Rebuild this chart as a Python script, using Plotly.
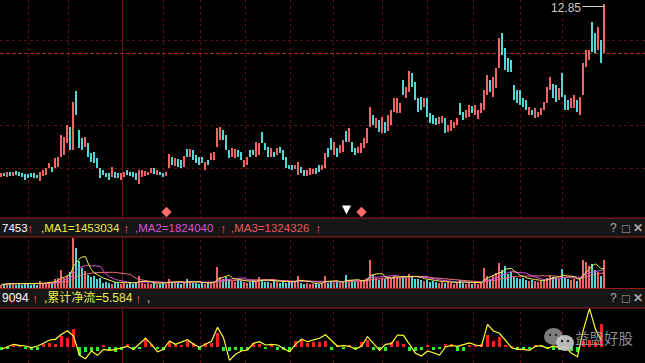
import plotly.graph_objects as go
import pandas as pd

W, H = 645, 363

# ---------------- data ----------------
hi = [4.40,4.40,4.45,4.45,4.45,4.50,4.45,4.40,4.35,4.35,
      4.40,4.40,4.30,4.45,4.55,4.65,4.90,4.70,5.15,5.20,
      6.30,6.20,6.80,6.70,7.95,8.50,6.55,6.15,6.20,5.90,
      5.40,5.45,5.15,4.65,4.55,4.40,4.40,4.70,4.45,4.40,
      4.40,4.45,4.55,4.45,4.45,4.40,4.55,4.55,4.50,4.45,
      4.65,4.65,4.55,4.45,4.40,4.45,5.35,5.20,5.15,5.10,
      5.05,5.25,5.60,5.60,5.55,5.30,5.20,5.20,4.95,5.05,
      5.40,5.45,6.65,6.70,6.55,6.30,5.55,5.65,5.60,5.55,
      5.45,5.05,5.20,5.55,5.55,5.95,5.90,6.45,5.90,5.70,
      5.65,5.45,5.65,5.70,5.55,5.20,4.80,4.80,4.80,4.95,
      4.70,4.55,4.55,4.65,4.60,4.65,4.80,4.80,5.40,5.65,
      6.15,5.95,5.65,5.80,6.05,6.50,6.65,5.95,5.65,5.70,
      5.90,6.15,6.65,7.70,7.30,7.15,7.05,7.20,6.95,7.30,
      7.55,8.15,8.15,7.90,9.05,8.70,9.50,9.40,8.95,8.15,
      8.20,8.15,8.15,7.40,7.30,7.15,7.20,7.25,7.15,6.80,
      7.05,6.95,7.15,7.90,7.45,7.55,7.80,7.75,7.80,7.55,
      7.90,8.55,9.30,9.05,9.20,9.65,11.15,11.40,10.65,10.15,
      10.05,8.80,8.55,8.55,8.15,8.05,7.70,7.55,7.65,7.45,
      7.65,7.95,8.70,9.20,8.85,8.80,8.65,9.40,8.30,8.05,
      8.15,8.30,8.05,8.20,9.90,10.55,10.55,11.95,11.40,11.70,
      11.05,12.85]

lo = [4.20,4.25,4.20,4.25,4.25,4.30,4.25,4.20,4.05,4.15,
      4.20,4.15,4.15,4.00,4.25,4.30,4.65,4.45,4.65,4.70,
      5.20,5.30,5.90,5.55,5.55,7.30,5.65,5.55,5.70,5.20,
      4.95,4.90,4.65,4.15,4.30,4.20,4.05,4.20,4.15,4.15,
      4.05,4.20,4.30,4.25,4.20,4.05,3.85,4.20,4.25,4.30,
      4.40,4.35,4.30,4.30,4.20,4.25,4.65,4.80,4.75,4.70,
      4.65,4.70,5.20,5.20,5.05,4.90,4.80,4.90,4.55,4.80,
      5.05,5.05,5.70,6.05,6.05,5.55,5.15,5.20,5.15,5.20,
      5.05,4.70,4.80,5.20,5.30,5.20,5.30,5.90,5.55,5.20,
      5.20,5.20,5.30,5.40,5.05,4.65,4.60,4.55,4.60,4.30,
      4.40,4.25,4.25,4.30,4.35,4.35,4.45,4.55,4.65,5.20,
      5.55,5.30,5.20,5.40,5.45,5.95,5.95,5.45,5.30,5.40,
      5.40,5.65,5.90,6.70,6.80,6.65,6.45,6.40,6.40,6.50,
      6.80,7.45,7.40,7.40,8.30,8.15,8.45,8.70,8.05,7.45,
      7.55,7.70,7.20,6.90,6.85,6.80,6.85,6.90,6.40,6.45,
      6.50,6.65,6.80,7.30,7.05,7.15,7.20,7.40,7.30,7.10,
      7.40,7.55,8.30,8.45,8.20,8.65,9.65,10.30,9.55,9.45,
      9.45,8.05,7.90,7.80,7.70,7.55,7.30,7.30,7.15,7.20,
      7.30,7.55,7.90,8.55,8.15,7.95,8.05,8.20,7.55,7.55,
      7.65,7.65,7.45,7.30,8.30,9.70,10.05,10.45,10.40,10.55,
      9.90,10.40]

up = [1,0,1,0,1,0,0,0,0,0, 0,0,0,1,1,1,1,0,1,1, 1,1,1,0,1,0,0,0,1,0,
      0,0,0,0,0,0,0,1,0,0, 1,1,0,0,0,0,1,1,1,1, 1,0,1,0,0,1,1,0,1,0,
      0,1,0,1,0,0,0,0,1,0, 1,1,1,1,0,0,0,1,1,0, 0,1,1,0,0,1,1,0,0,0,
      1,0,1,0,0,0,0,0,1,1, 0,0,1,1,1,0,0,1,1,0, 0,1,0,1,1,0,1,0,0,1,
      1,1,1,1,0,1,0,1,0,1, 1,1,1,1,0,1,1,0,0,0, 0,1,0,0,0,0,1,1,0,1,
      1,1,1,0,0,1,1,0,1,1, 1,1,1,0,1,1,1,0,0,0, 0,0,0,0,0,0,1,0,1,1,
      1,1,1,1,0,0,1,0,0,0, 1,1,0,1,1,1,1,0,0,1, 0,1]

vol = [24,32,24,40,32,24,32,24,40,32, 24,32,24,56,32,40,48,40,72,80,
       144,80,96,128,400,320,216,160,136,104, 88,96,72,80,40,48,40,32,48,40,
       32,40,32,40,32,40,96,40,32,40, 32,40,32,32,40,32,72,48,40,40,
       32,40,72,48,40,40,32,40,32,40, 48,40,168,88,72,88,72,56,48,64,
       56,48,40,48,56,48,88,56,48,48, 40,56,48,40,48,40,56,48,48,96,
       40,32,40,32,32,40,32,40,96,40, 48,40,48,40,48,104,48,56,48,56,
       64,56,80,224,104,80,64,80,72,88, 80,96,88,80,96,80,112,88,72,72,
       64,56,64,48,56,48,40,48,40,48, 40,32,40,64,40,32,40,32,40,32,
       48,160,96,72,96,120,200,144,176,112, 128,88,80,72,80,64,56,64,56,48,
       56,64,80,104,88,80,72,152,80,72, 64,72,56,80,224,208,176,192,144,128,
       96,224]

flow = [-0.25,-0.2,0.15,0.25,-0.15,-0.3,-0.3,0.3,0.4,0.3,
        1.1,0.9,1.8,-0.8,-0.5,-0.4,-0.4,0.2,-0.3,-0.5,
        -0.3,0.3,-0.3,-0.2,0.9,0.3,-0.2,-0.25,0.5,0.3,
        0.2,0.6,0.4,-0.3,0.4,0.4,
        1.4,-0.4,-0.4,-0.3,-0.35,-0.3,0.4,0.3,-0.2,0.2,
        -0.3,-0.3,-0.5,0.6,0.7,0.4,0.5,0.5,0.6,-0.3,
        0.2,-0.2,0.2,-0.2,0.5,0.7,-0.3,-0.3,-0.4,0.5,
        0.6,0.3,-0.4,-0.4,-0.3,0.2,
        -0.3,-0.2,0.3,0.3,-0.4,-0.4,0.2,0.2,0.3,1.2,
        0.6,1.0,0.2,0.1,-0.3,-0.3,-0.2,0.2,0.1,-0.2,
        -0.3,-0.3,-0.2,-0.4,-0.5,0.6,0.7,0.5,2.3]

netline = [-0.23,0.03,0.27,0.17,0.1,-0.07,0.1,0.37,0.7,0.77,
           1.27,1.63,1.1,-0.83,-1.17,-0.4,-0.83,-0.23,-0.33,-0.23,
           -0.1,0.07,-0.23,0.37,0.87,0.27,-0.47,-0.23,0.6,0.27,
           0.5,0.73,0.27,-0.03,0.27,0.57,
           1.97,0.93,-1.33,-0.73,-0.4,-0.3,0.37,0.53,0.2,0.27,
           0.2,-0.13,-0.47,0.27,0.77,0.53,0.73,0.87,1.23,0.6,
           0.07,0.13,0.07,-0.23,0.1,1.03,0.37,-0.33,0.27,0.33,
           1.2,1.17,0.27,-0.63,-0.9,-0.4,
           -0.57,-0.8,0,0.17,0.07,0.27,0.4,0.2,0.1,2.27,
           1.6,1.37,0.6,-0.07,-0.23,-0.23,-0.33,0.07,0.13,-0.13,
           0.1,-0.1,0,-0.63,-0.97,1.77,3.83,1.77,0.6]

sig_diamond_x = [55, 120]
sig_diamond_y = [2.45, 2.45]
sig_arrow_x = [115]
sig_arrow_y = [2.33]
max_price = 12.85

hdr_vol = ["7453", ",MA1=1453034", ",MA2=1824040", ",MA3=1324326"]
hdr_flow = ["9094", ",累计净流=5.584", ","]

assert len(hi) == len(lo) == len(up) == len(vol), (len(hi), len(lo), len(up), len(vol))
assert len(flow) == len(netline), (len(flow), len(netline))

n = len(hi)
idx = list(range(n))
fidx = [2 * k for k in range(len(flow))]

UP, DN = "#f06464", "#55d6d6"
colors = [UP if u else DN for u in up]

vs = pd.Series(vol)
ma1 = vs.rolling(5, min_periods=1).mean()
ma2 = vs.rolling(10, min_periods=1).mean()
ma3 = vs.rolling(20, min_periods=1).mean()

fig = go.Figure()
fig.add_trace(go.Bar(x=idx, y=[h - l for h, l in zip(hi, lo)], base=lo,
                     marker=dict(color=colors, line_width=0), width=0.48,
                     xaxis="x", yaxis="y"))
fig.add_trace(go.Scatter(x=sig_diamond_x, y=sig_diamond_y, mode="markers",
                         marker=dict(symbol="diamond", size=8, color="#ff6b6b"),
                         xaxis="x", yaxis="y"))
fig.add_trace(go.Scatter(x=sig_arrow_x, y=sig_arrow_y, mode="markers",
                         marker=dict(symbol="arrow-down", size=9, color="#ffffff"),
                         xaxis="x", yaxis="y"))

fig.add_trace(go.Bar(x=idx, y=vol, marker=dict(color=colors, line_width=0), width=0.48,
                     xaxis="x2", yaxis="y2"))
for s, c in [(ma3, "#f07080"), (ma2, "#e050e0"), (ma1, "#f0f050")]:
    fig.add_trace(go.Scatter(x=idx, y=s, mode="lines", line=dict(color=c, width=1),
                             xaxis="x2", yaxis="y2"))

fig.add_trace(go.Bar(x=fidx, y=flow, width=1.3,
                     marker=dict(color=["#ff1e1e" if v > 0 else "#2cf02c" for v in flow], line_width=0),
                     xaxis="x3", yaxis="y3"))
fig.add_trace(go.Scatter(x=fidx, y=netline, mode="lines", line=dict(color="#ffff33", width=1.2),
                         xaxis="x3", yaxis="y3"))


def py(p):
    return 1 - p / H


def px_(p):
    return p / W


shapes = []
GRID = "#5a1010"
# vertical dotted separators
for xv in [28, 68, 163, 200, 245, 290, 333, 382, 427, 473, 520, 562]:
    shapes.append(dict(type="line", xref="paper", yref="paper", x0=px_(xv + 0.5), x1=px_(xv + 0.5),
                       y0=0, y1=1, layer="below", line=dict(color=GRID, width=1, dash="dot")))
shapes.append(dict(type="line", xref="paper", yref="paper", x0=px_(122.5), x1=px_(122.5), y0=0, y1=1,
                   layer="below", line=dict(color="#6e1414", width=1)))
for yv in [40.5, 125.5, 168.5]:
    shapes.append(dict(type="line", xref="paper", yref="paper", x0=0, x1=1, y0=py(yv), y1=py(yv),
                       layer="below", line=dict(color=GRID, width=1, dash="dot")))
shapes.append(dict(type="line", xref="paper", yref="paper", x0=0, x1=1, y0=py(53.5), y1=py(53.5),
                   layer="below", line=dict(color="#b22424", width=1, dash="4px,2px")))

# panel headers
for top, bot in [(218, 237), (288.5, 308)]:
    shapes.append(dict(type="rect", xref="paper", yref="paper", x0=0, x1=1, y0=py(bot), y1=py(top),
                       layer="above", fillcolor="#161616", line_width=0))
    for yv in (top, bot):
        shapes.append(dict(type="line", xref="paper", yref="paper", x0=0, x1=1, y0=py(yv), y1=py(yv),
                           layer="above", line=dict(color="#9a1c1c", width=1)))

# max-price connector (from label to the top of the last bar)
shapes.append(dict(type="line", xref="x", yref="paper", x0=193.6, x1=201, y0=py(6.5), y1=py(6.5),
                   line=dict(color="#c8c8c8", width=1)))

# watermark bubbles
shapes.append(dict(type="circle", xref="paper", yref="paper", x0=px_(544), x1=px_(563),
                   y0=py(345), y1=py(328), layer="above", fillcolor="rgba(140,140,140,0.9)", line_width=0))
shapes.append(dict(type="circle", xref="paper", yref="paper", x0=px_(556), x1=px_(574),
                   y0=py(351), y1=py(335), layer="above", fillcolor="rgba(200,200,200,0.92)", line_width=0))
for ex, ey in [(550, 335), (556, 335), (562, 341), (568, 341)]:
    shapes.append(dict(type="circle", xref="paper", yref="paper", x0=px_(ex - 1.3), x1=px_(ex + 1.3),
                       y0=py(ey + 1.3), y1=py(ey - 1.3), layer="above", fillcolor="#303030", line_width=0))

FONT = "Liberation Sans, Arial, Noto Sans CJK SC, sans-serif"
ann = []


def txt(x, y, s, color, size=11.5, anchor="left"):
    ann.append(dict(x=px_(x), y=py(y), xref="paper", yref="paper", text=s, showarrow=False,
                    xanchor=anchor, yanchor="middle", font=dict(family=FONT, size=size, color=color)))


ARR = "#ff4a4a"
# volume header
txt(0, 228, hdr_vol[0], "#ffffff")
txt(30.5, 228, "↑", ARR, size=13, anchor="center")
txt(39, 228, hdr_vol[1], "#ecec4c")
txt(126.5, 228, "↑", ARR, size=13, anchor="center")
txt(133, 228, hdr_vol[2], "#d552d5")
txt(223.5, 228, "↑", ARR, size=13, anchor="center")
txt(229, 228, hdr_vol[3], "#e85a5a")
txt(318.5, 228, "↑", ARR, size=13, anchor="center")
# flow header
txt(0, 298, hdr_flow[0], "#ffffff", size=12)
txt(35, 298, "↑", ARR, size=13, anchor="center")
txt(42, 298, hdr_flow[1], "#ecec4c", size=12)
txt(138, 298, "↑", ARR, size=13, anchor="center")
txt(145, 298, hdr_flow[2], "#d0d0d0", size=12)
for yy in (228, 298):
    txt(613.5, yy, "?", "#a8a8a8", size=12, anchor="center")
    txt(626, yy, "□", "#a8a8a8", size=13, anchor="center")
    txt(638, yy, "<b>✕</b>", "#a8a8a8", size=12, anchor="center")

# watermark text
txt(604, 339, "益盟好股", "rgba(150,150,150,0.95)", size=14.5, anchor="center")

# max price label (kept fully inside the page)
ann.append(dict(x=193.4, y=py(0.5), xref="x", yref="paper", text=f"{max_price:.2f}", showarrow=False,
                xanchor="right", yanchor="top", borderpad=0,
                font=dict(family=FONT, size=12, color="#c8c8c8")))

XR = [-0.5, (W - 1.5) / 3]
ax = dict(range=XR, visible=False, showgrid=False, zeroline=False, fixedrange=True)
fig.update_layout(
    width=W, height=H, margin=dict(l=0, r=0, t=0, b=0),
    paper_bgcolor="#000000", plot_bgcolor="#000000",
    showlegend=False, barmode="overlay", bargap=0,
    xaxis=dict(**ax, anchor="y"),
    xaxis2=dict(**ax, anchor="y2"),
    xaxis3=dict(**ax, anchor="y3"),
    yaxis=dict(domain=[py(218), 1], range=[2.15, 13.05], visible=False, showgrid=False, zeroline=False),
    yaxis2=dict(domain=[py(288.5), py(237)], range=[-8, 404], visible=False, showgrid=False, zeroline=False),
    yaxis3=dict(domain=[0, py(308)], range=[-1.6, 3.9], visible=False, showgrid=False, zeroline=False),
    shapes=shapes, annotations=ann,
)

fig.write_html("out.html")
